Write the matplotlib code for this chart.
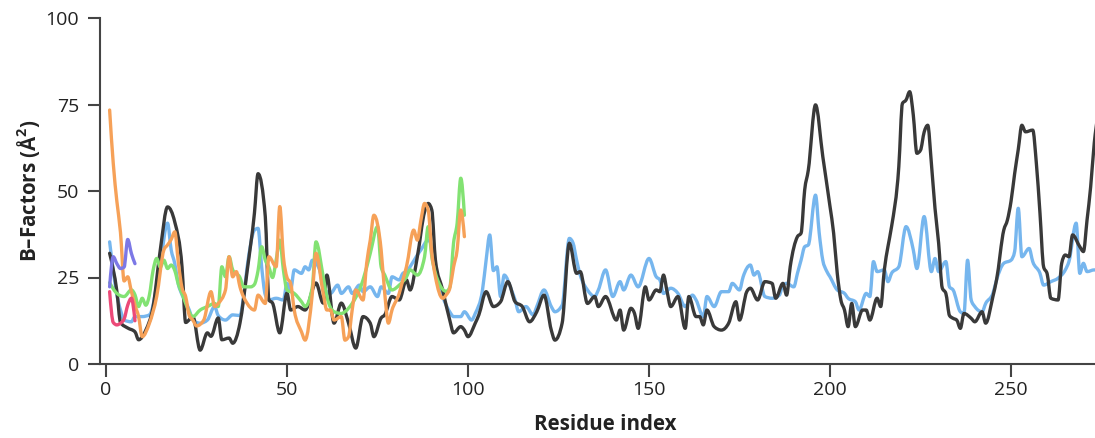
import matplotlib
matplotlib.use("Agg")
import matplotlib.pyplot as plt
import numpy as np
from matplotlib.path import Path
from matplotlib.patches import PathPatch

plt.rcParams['font.family'] = ['Open Sans', 'DejaVu Sans']
plt.rcParams['mathtext.fontset'] = 'custom'
plt.rcParams['mathtext.rm'] = 'Open Sans'
plt.rcParams['mathtext.bf'] = 'Open Sans:bold'

# B-factor profiles per chain (residue index, B-factor in Å^2)
black_res = [1, 3, 4, 6, 8, 9, 11, 13, 15, 17, 19, 21, 22, 24, 26, 28, 29, 31, 32, 34, 35, 37, 39, 41, 42, 44,
             45, 46, 48, 50, 51, 53, 55, 58, 60, 61, 63, 65, 67, 69, 71, 73, 74, 76, 77, 79, 81, 83, 84, 86, 88,
             89, 90, 91, 93, 95, 96, 98, 99, 100, 102, 103, 105, 107, 109, 111, 113, 115, 117, 119, 121, 123,
             124, 126, 128, 130, 131, 133, 135, 136, 138, 141, 142, 143, 145, 146, 147, 149, 150, 152, 153, 154,
             155, 156, 158, 160, 161, 163, 164, 165, 166, 168, 170, 172, 174, 175, 177, 178, 180, 182, 184, 185,
             187, 188, 189, 191, 192, 193, 194, 196, 198, 200, 201, 202, 203, 204, 205, 206, 207, 209, 210, 211,
             213, 214, 215, 216, 217, 219, 220, 221, 222, 223, 224, 225, 226, 227, 228, 229, 230, 231, 232, 233,
             234, 235, 236, 237, 239, 240, 242, 243, 245, 246, 248, 249, 250, 251, 252, 253, 254, 256, 257, 258,
             259, 260, 261, 263, 264, 265, 266, 267, 269, 270, 271, 272, 273, 274]
black_b = [32, 21, 12, 10.4, 9.3, 7, 9.8, 16.5, 33, 45.4, 41, 28, 12, 13.7, 4, 9, 8, 13.3, 7, 7.5, 6, 11.8, 27,
           43.6, 55, 42.6, 18.5, 17.6, 9, 20.5, 15.6, 16.6, 15.6, 23.4, 17.6, 25.7, 11.8, 17.6, 11.8, 4.6, 13.7,
           11.8, 7.9, 13.3, 14.2, 19.5, 18.5, 24.3, 21.4, 31, 44, 46.4, 44.5, 30, 21.4, 12.5, 9, 10.8, 9.8, 7.9,
           11.8, 14.2, 20.9, 16.6, 18, 23.8, 18, 16.6, 12.2, 15.1, 19.9, 9.8, 6.9, 11.8, 34.9, 26.2, 26.7, 17.5,
           19.5, 16.6, 19.5, 12.7, 15.6, 9.8, 16.1, 14.6, 10.3, 22.3, 18.5, 21.4, 20.9, 25.7, 20.9, 16.6, 19.5,
           10.3, 19.5, 13.7, 13.7, 11.3, 15.6, 10.8, 9.8, 11.8, 18, 12.7, 20.9, 21.9, 18.5, 23.8, 23.3, 19, 23.3,
           19.9, 28.1, 36.8, 37.8, 50.3, 56, 74.9, 60, 45.5, 37.8, 26.2, 18.5, 15.6, 10.8, 17.5, 10.8, 15.6, 15.6,
           12.7, 19, 16.6, 27.2, 33.9, 39.7, 57, 75.3, 76.3, 78.7, 72, 60.9, 61.8, 67, 69, 58, 45, 35, 22, 20.4,
           14, 13.2, 12.7, 10.3, 14.6, 13.2, 12.2, 15.1, 11.8, 19.5, 24.3, 38.7, 41.6, 47, 55, 62, 69, 67.1, 67.6,
           58, 43.6, 28.1, 26, 19, 18.5, 29.1, 31.5, 31, 37.3, 33.9, 32.5, 41.6, 51.2, 63.9, 72]

blue_res = [1, 2, 3, 4, 5, 7, 8, 10, 12, 13, 14, 15, 17, 18, 19, 20, 21, 23, 24, 26, 28, 30, 31, 33, 35, 37, 38,
            39, 41, 42, 43, 44, 45, 47, 49, 50, 51, 52, 54, 55, 56, 57, 59, 60, 62, 64, 65, 67, 68, 70, 71, 73, 75,
            76, 78, 79, 81, 82, 83, 84, 86, 87, 89, 90, 91, 93, 95, 96, 98, 99, 101, 102, 104, 105, 106, 107, 108,
            109, 110, 112, 113, 114, 116, 118, 119, 121, 123, 124, 126, 128, 129, 130, 131, 133, 135, 136, 138,
            140, 142, 143, 145, 147, 150, 152, 153, 154, 156, 158, 160, 162, 163, 165, 166, 168, 170, 172, 173,
            175, 176, 178, 179, 180, 182, 184, 186, 187, 188, 190, 191, 192, 193, 194, 196, 197, 198, 199, 200,
            202, 204, 205, 207, 208, 210, 211, 212, 213, 215, 216, 217, 219, 221, 223, 224, 226, 228, 229, 230,
            232, 233, 234, 236, 237, 238, 239, 240, 242, 243, 245, 246, 248, 250, 251, 252, 253, 255, 256, 258,
            259, 261, 263, 265, 266, 268, 269, 270, 271, 273, 274]
blue_b = [35.3, 27, 20, 15.6, 12.7, 12.2, 13.7, 13.7, 14.2, 17, 23, 29, 40.7, 33, 29, 23, 20, 15.6, 12.7, 11.8,
          12.7, 16.6, 14, 12.7, 14.2, 14, 19.5, 28.1, 38.7, 39.2, 28, 20, 18.5, 19, 18.5, 23.3, 21.4, 27.2, 26.2,
          28.1, 27.2, 30, 27.2, 22.3, 20.4, 22.8, 20.4, 22.3, 20.4, 22.8, 20.9, 22.3, 19.5, 22.3, 20.4, 25.2, 24.3,
          26.2, 26.7, 28.1, 31.5, 33, 35.8, 33.9, 27.2, 19.5, 15, 13.7, 13.7, 15.1, 12.7, 14.6, 21.4, 30, 37.3, 27,
          28.1, 19.5, 25.7, 21.4, 18.5, 15.1, 16.6, 14.2, 16.6, 21.4, 16.6, 15.1, 17, 36.3, 35, 30, 25.7, 21.4,
          19.5, 21.4, 27.2, 19.5, 23.8, 21.4, 25.7, 22.3, 30.5, 25.2, 24.3, 20.4, 21.9, 20.4, 16.6, 19.9, 18.5,
          13.7, 19.5, 16.6, 20.9, 20.9, 23.3, 21.4, 25.2, 28.6, 25.7, 26.7, 19.5, 19, 19.9, 22.8, 23.3, 22.3, 26.2,
          30, 33.9, 34.4, 48.8, 38, 30, 27, 25.2, 21.4, 20.4, 19, 18, 15.6, 20.4, 19.5, 29.6, 26.7, 27.2, 23.8,
          26.2, 28.1, 39.7, 33, 27.6, 42.6, 26.7, 30.5, 26.7, 29.6, 22.3, 21.4, 15.1, 14.6, 30, 18.5, 16.6, 15.1,
          17.5, 20.4, 24.3, 29.1, 30, 32.5, 45, 31, 33.4, 29.6, 26.2, 22.8, 23.8, 24.8, 27.2, 29.6, 40.7, 26.2,
          29.1, 26.7, 27.2, 27]

orange_res = [1, 2, 3, 4, 5, 6, 7, 8, 9, 10, 12, 14, 16, 17, 18, 19, 20, 21, 22, 23, 24, 25, 27, 29, 30, 31, 33,
              34, 35, 36, 37, 39, 41, 42, 44, 45, 47, 48, 49, 50, 51, 52, 54, 55, 57, 58, 60, 61, 62, 63, 65, 66,
              67, 68, 69, 71, 72, 73, 74, 76, 77, 78, 79, 81, 82, 83, 85, 86, 87, 88, 89, 90, 91, 93, 94, 95, 96,
              97, 98, 99]
orange_b = [73.4, 58, 47, 38, 24, 25.2, 21, 17, 13.7, 7.9, 11.8, 19.5, 33, 34.4, 36, 38.2, 29.1, 22, 19.5, 14,
            12.7, 11, 12.7, 20.9, 16.6, 17.5, 21.4, 31, 25.2, 26.7, 22.3, 17.5, 15.6, 19.9, 17.5, 31, 28.1, 45.5,
            31, 25, 23.3, 15.6, 9.3, 6.9, 20.4, 32, 20.4, 15.6, 15.6, 12.7, 13.7, 6.9, 7.9, 15.6, 21.4, 18.5, 29.1,
            35.8, 43, 33, 20.4, 11.8, 15.6, 20.4, 24.3, 28.1, 38.7, 35.8, 41.6, 46.4, 44.5, 32, 25.2, 19, 20, 22,
            28, 33, 44.5, 36.8]

green_res = [1, 3, 5, 7, 8, 9, 10, 11, 12, 13, 14, 15, 16, 17, 18, 19, 20, 21, 22, 24, 26, 28, 30, 31, 32, 33,
             34, 35, 37, 38, 40, 41, 42, 43, 44, 45, 46, 47, 48, 49, 50, 52, 54, 55, 57, 58, 60, 61, 63, 65, 66,
             68, 70, 71, 73, 75, 76, 77, 79, 81, 83, 84, 86, 88, 89, 90, 91, 92, 94, 95, 96, 97, 98, 99]
green_b = [23.5, 20.4, 19.5, 21.4, 20, 16.6, 19, 17, 20, 27, 30.5, 28, 30, 27.6, 28.6, 27, 23, 20.4, 17.5, 13.7,
           15.6, 16.6, 17.5, 16.6, 28.1, 25.2, 31, 27.2, 25, 22.3, 22.3, 23, 27, 33.9, 30, 28, 25, 30, 35.8, 27.2,
           21.4, 20.4, 18, 16.6, 22.3, 35.3, 25.2, 19.5, 15.1, 14.6, 15.1, 17.5, 21.4, 24.3, 32, 39.7, 28.1, 25.7,
           21.4, 22.8, 25.2, 27.2, 25.7, 31, 39.7, 31, 26.2, 23.3, 21, 22.3, 34.9, 40.7, 53.7, 43]

red_res = [1, 2, 3, 4, 5, 6, 7, 8]
red_b = [20.9, 12, 11.3, 11.8, 13, 17, 19, 12.5]

purple_res = [1, 2, 3, 4, 5, 6, 7, 8]
purple_b = [22.3, 31, 29, 27.6, 28, 36, 32, 29]

x_ticks = [0, 50, 100, 150, 200, 250]
y_ticks = [0, 25, 50, 75, 100]

axis_col = '#444444'
text_col = '#222222'


def monotone_path(xs, ys):
    """Monotone cubic (Fritsch-Carlson style) curve through the points, as Bezier segments."""
    x = np.asarray(xs, float)
    y = np.asarray(ys, float)
    n = len(x)
    h = np.diff(x)
    s = np.diff(y) / h
    m = np.zeros(n)
    for i in range(1, n - 1):
        s0, s1 = s[i - 1], s[i]
        p = (s0 * h[i] + s1 * h[i - 1]) / (h[i - 1] + h[i])
        m[i] = (np.sign(s0) + np.sign(s1)) * min(abs(s0), abs(s1), 0.5 * abs(p))
    m[0] = (3 * s[0] - m[1]) / 2 if n > 2 else s[0]
    m[-1] = (3 * s[-1] - m[-2]) / 2 if n > 2 else s[-1]
    verts = [(x[0], y[0])]
    codes = [Path.MOVETO]
    for i in range(n - 1):
        dx = h[i] / 3
        verts += [(x[i] + dx, y[i] + dx * m[i]),
                  (x[i + 1] - dx, y[i + 1] - dx * m[i + 1]),
                  (x[i + 1], y[i + 1])]
        codes += [Path.CURVE4] * 3
    return Path(verts, codes)


fig = plt.figure(figsize=(10.95, 4.38), dpi=100)
ax = fig.add_axes([100 / 1095, 74 / 438, 995 / 1095, 346 / 438])

series = [
    (blue_res, blue_b, '#76b6ee'),
    (black_res, black_b, '#393939'),
    (green_res, green_b, '#82e272'),
    (orange_res, orange_b, '#f6a158'),
    (red_res, red_b, '#ec4a78'),
    (purple_res, purple_b, '#7c78e6'),
]
for xs, ys, col in series:
    ax.add_patch(PathPatch(monotone_path(xs, ys), fill=False, edgecolor=col, lw=2.4,
                           joinstyle='round', capstyle='round'))

ax.set_xlim(-1.66, 273.2)
ax.set_ylim(0, 100)
ax.set_xticks(x_ticks)
ax.set_yticks(y_ticks)

for side in ('top', 'right'):
    ax.spines[side].set_visible(False)
for side in ('left', 'bottom'):
    ax.spines[side].set_color(axis_col)
    ax.spines[side].set_linewidth(1.5)

ax.tick_params(axis='both', colors=axis_col, labelcolor=text_col, width=1.5, length=9, labelsize=14)
ax.tick_params(axis='y', pad=6)
ax.tick_params(axis='x', pad=3)

ax.set_xlabel('Residue index', fontsize=14.8, fontweight='bold', color=text_col)
ax.xaxis.set_label_coords((605 - 100) / 995, -(425 - 364) / 346)
ax.xaxis.label.set_va('center')
ax.set_ylabel('B–Factors (Å$^{\\mathbf{2}}$)', fontsize=14.8, fontweight='bold', color=text_col)
ax.yaxis.set_label_coords(-(100 - 29) / 995, 0.5)
ax.yaxis.label.set_va('center')

fig.savefig('out.png', dpi=100)
